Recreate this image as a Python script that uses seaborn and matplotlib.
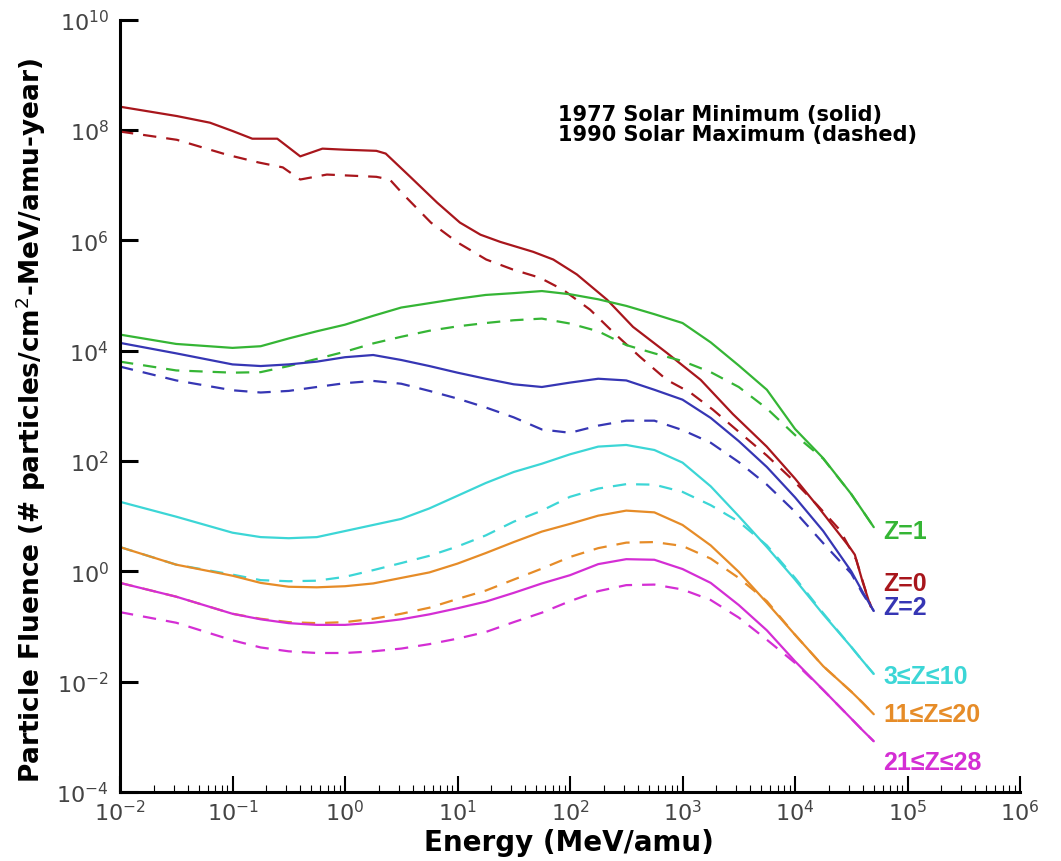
import numpy as np
import pandas as pd
import matplotlib
matplotlib.use("Agg")
import matplotlib.pyplot as plt
import matplotlib.ticker as mticker
import seaborn as sns

# ---------------- data ----------------
# common energy grid (MeV/amu) for Z>=1 curves
energy = [1.0e-2, 3.16e-2, 1.0e-1, 1.78e-1, 3.16e-1, 5.62e-1, 1.0, 1.78, 3.16, 5.62,
          1.0e1, 1.78e1, 3.16e1, 5.62e1, 1.0e2, 1.78e2, 3.16e2, 5.62e2, 1.0e3, 1.78e3,
          3.16e3, 5.62e3, 1.0e4, 1.78e4, 3.16e4, 3.98e4, 5.01e4]

z1_min = [1.95e4, 1.32e4, 1.12e4, 1.20e4, 1.66e4, 2.24e4, 2.95e4, 4.27e4, 6.03e4, 7.24e4,
          8.71e4, 1.02e5, 1.10e5, 1.20e5, 1.05e5, 8.51e4, 6.46e4, 4.57e4, 3.16e4, 1.41e4,
          5.37e3, 1.95e3, 3.80e2, 1.12e2, 2.51e1, 1.26e1, 6.31]
z1_max = [6.31e3, 4.37e3, 3.98e3, 4.07e3, 5.25e3, 7.08e3, 9.55e3, 1.35e4, 1.78e4, 2.29e4,
          2.75e4, 3.16e4, 3.55e4, 3.80e4, 3.09e4, 2.24e4, 1.26e4, 8.91e3, 6.46e3, 4.07e3,
          2.19e3, 8.91e2, 2.95e2, 1.10e2, 2.51e1, 1.26e1, 6.31]

z2_min = [1.38e4, 8.91e3, 5.62e3, 5.25e3, 5.62e3, 6.31e3, 7.59e3, 8.32e3, 6.76e3, 5.25e3,
          3.98e3, 3.09e3, 2.45e3, 2.19e3, 2.63e3, 3.09e3, 2.88e3, 1.95e3, 1.29e3, 6.03e2,
          2.29e2, 7.76e1, 2.19e1, 5.37, 1.00, 4.27e-1, 1.91e-1]
z2_max = [5.13e3, 2.88e3, 1.91e3, 1.74e3, 1.86e3, 2.19e3, 2.57e3, 2.82e3, 2.51e3, 1.86e3,
          1.35e3, 9.33e2, 6.17e2, 3.72e2, 3.24e2, 4.37e2, 5.37e2, 5.37e2, 3.63e2, 2.14e2,
          9.55e1, 3.72e1, 1.20e1, 3.24, 9.12e-1, 3.98e-1, 1.91e-1]

z3_10_min = [1.82e1, 9.77, 5.01, 4.17, 3.98, 4.17, 5.37, 6.92, 8.91, 1.38e1,
             2.34e1, 3.98e1, 6.31e1, 8.91e1, 1.32e2, 1.82e2, 1.95e2, 1.58e2, 9.33e1, 3.47e1,
             1.00e1, 2.75, 7.08e-1, 1.66e-1, 4.27e-2, 2.40e-2, 1.38e-2]
z3_10_max = [2.75, 1.32, 8.71e-1, 6.92e-1, 6.61e-1, 6.76e-1, 7.94e-1, 1.05, 1.41, 1.91,
             2.82, 4.47, 7.94, 1.26e1, 2.24e1, 3.16e1, 3.80e1, 3.72e1, 2.75e1, 1.58e1,
             7.94, 2.95, 7.59e-1, 1.74e-1, 4.27e-2, 2.40e-2, 1.38e-2]

z11_20_min = [2.75, 1.32, 8.32e-1, 6.17e-1, 5.25e-1, 5.13e-1, 5.37e-1, 6.03e-1, 7.59e-1, 9.55e-1,
              1.38, 2.14, 3.39, 5.25, 7.24, 1.02e1, 1.26e1, 1.17e1, 6.92, 2.95,
              9.77e-1, 2.69e-1, 7.08e-2, 1.91e-2, 6.61e-3, 4.17e-3, 2.57e-3]
z11_20_max = [6.17e-1, 3.47e-1, 1.70e-1, 1.38e-1, 1.20e-1, 1.15e-1, 1.20e-1, 1.38e-1, 1.70e-1, 2.19e-1,
              3.16e-1, 4.47e-1, 7.08e-1, 1.12, 1.82, 2.63, 3.31, 3.39, 2.88, 1.70,
              7.59e-1, 2.88e-1, 7.08e-2, 1.91e-2, 6.61e-3, 4.17e-3, 2.57e-3]

z21_28_min = [6.17e-1, 3.47e-1, 1.70e-1, 1.35e-1, 1.15e-1, 1.07e-1, 1.07e-1, 1.17e-1, 1.35e-1, 1.66e-1,
              2.14e-1, 2.82e-1, 4.07e-1, 6.03e-1, 8.51e-1, 1.35, 1.66, 1.62, 1.10, 6.17e-1,
              2.45e-1, 8.51e-2, 2.34e-2, 7.08e-3, 2.14e-3, 1.32e-3, 8.32e-4]
z21_28_max = [1.82e-1, 1.17e-1, 5.62e-2, 4.17e-2, 3.55e-2, 3.31e-2, 3.31e-2, 3.55e-2, 3.98e-2, 4.79e-2,
              6.03e-2, 7.94e-2, 1.20e-1, 1.78e-1, 2.88e-1, 4.37e-1, 5.62e-1, 5.75e-1, 4.68e-1, 3.02e-1,
              1.45e-1, 5.75e-2, 2.19e-2, 7.08e-3, 2.14e-3, 1.32e-3, 8.32e-4]

# Z=0 curves have their own energy sampling (sharper features)
z0_min_energy = [1.0e-2, 3.2e-2, 6.3e-2, 1.0e-1, 1.5e-1, 2.5e-1, 4.0e-1, 6.3e-1, 1.0, 1.9,
                 2.3, 3.8, 6.6, 10.5, 16, 24, 47, 71, 115, 214,
                 363, 724, 1.45e3, 2.8e3, 5.6e3, 1.0e4, 1.6e4, 3.1e4, 3.4e4, 4.0e4, 4.7e4]
z0_min = [2.63e8, 1.78e8, 1.35e8, 9.55e7, 6.92e7, 6.92e7, 3.31e7, 4.57e7, 4.37e7, 4.17e7,
          3.72e7, 1.41e7, 4.79e6, 2.09e6, 1.26e6, 9.33e5, 6.17e5, 4.47e5, 2.40e5, 8.32e4,
          2.69e4, 9.12e3, 2.95e3, 7.08e2, 1.82e2, 4.79e1, 1.48e1, 2.63, 2.00, 6.31e-1, 2.29e-1]

z0_max_energy = [1.0e-2, 3.2e-2, 8.9e-2, 1.7e-1, 2.8e-1, 4.0e-1, 6.9e-1, 1.9, 2.5, 3.3,
                 5.8, 10, 18, 31, 54, 87, 151, 240, 417, 724,
                 1.17e3, 1.86e3, 3.24e3, 5.6e3, 9.5e3, 1.58e4, 2.5e4, 3.5e4, 4.4e4, 4.8e4]
z0_max = [9.33e7, 6.61e7, 3.55e7, 2.57e7, 2.09e7, 1.26e7, 1.55e7, 1.41e7, 1.26e7, 6.76e6,
          2.09e6, 9.12e5, 4.47e5, 2.95e5, 2.09e5, 1.26e5, 5.50e4, 2.19e4, 7.76e3, 2.95e3,
          1.74e3, 8.51e2, 3.24e2, 1.26e2, 4.57e1, 1.58e1, 5.62, 1.62, 3.47e-1, 2.19e-1]

series_names = ["Z=0", "Z=1", "Z=2", "3≤Z≤10", "11≤Z≤20", "21≤Z≤28"]
series_colors = ["#a8161c", "#35b535", "#3636b4", "#3cd6d6", "#e68c28", "#d42ed4"]
periods = ["1977 Solar Minimum (solid)", "1990 Solar Maximum (dashed)"]

# ---------------- long table ----------------
curves = [
    ("Z=0", "solid", z0_min_energy, z0_min),
    ("Z=0", "dashed", z0_max_energy, z0_max),
    ("Z=1", "solid", energy, z1_min),
    ("Z=1", "dashed", energy, z1_max),
    ("Z=2", "solid", energy, z2_min),
    ("Z=2", "dashed", energy, z2_max),
    ("3≤Z≤10", "solid", energy, z3_10_min),
    ("3≤Z≤10", "dashed", energy, z3_10_max),
    ("11≤Z≤20", "solid", energy, z11_20_min),
    ("11≤Z≤20", "dashed", energy, z11_20_max),
    ("21≤Z≤28", "solid", energy, z21_28_min),
    ("21≤Z≤28", "dashed", energy, z21_28_max),
]
frames = [pd.DataFrame({"energy": xs, "fluence": ys, "series": name, "period": per})
          for name, per, xs, ys in curves]
df = pd.concat(frames, ignore_index=True)

# ---------------- plotting ----------------
sns.set_style("ticks")
plt.rcParams["font.family"] = ["DejaVu Sans"]
plt.rcParams["mathtext.fontset"] = "dejavusans"

fig = plt.figure(figsize=(10.61, 8.62), dpi=100)
ax = fig.add_axes([0.1131, 0.080, 0.8483, 0.8962])
ax.set_xscale("log")
ax.set_yscale("log")

sns.lineplot(data=df, x="energy", y="fluence", hue="series", style="period",
             hue_order=series_names, style_order=["solid", "dashed"],
             palette=dict(zip(series_names, series_colors)),
             dashes={"solid": "", "dashed": (6, 4.5)},
             estimator=None, sort=True, linewidth=1.6, legend=False, ax=ax)

ax.set_xlim(1e-2, 1e6)
ax.set_ylim(1e-4, 1e10)

ax.xaxis.set_major_locator(mticker.LogLocator(base=10, numticks=20))
ax.xaxis.set_minor_locator(mticker.LogLocator(base=10, subs=np.arange(2, 10), numticks=20))
ax.xaxis.set_minor_formatter(mticker.NullFormatter())
ax.xaxis.set_major_formatter(mticker.LogFormatterMathtext(base=10))
ax.yaxis.set_major_locator(mticker.LogLocator(base=100, numticks=20))
ax.yaxis.set_minor_locator(mticker.NullLocator())
ax.yaxis.set_major_formatter(mticker.LogFormatterMathtext(base=10))

tick_color = "#444444"
ax.tick_params(axis="x", which="major", direction="in", length=11.5, width=1.5,
               pad=5, labelsize=16, labelcolor=tick_color, color="black")
ax.tick_params(axis="x", which="minor", direction="in", length=5, width=0.8, color="black")
ax.tick_params(axis="y", which="major", direction="in", length=13, width=2.2,
               pad=8, labelsize=16, labelcolor=tick_color, color="black")

sns.despine(ax=ax)
for s in ["left", "bottom"]:
    ax.spines[s].set_linewidth(2.2)
    ax.spines[s].set_color("black")

ax.set_xlabel("Energy (MeV/amu)", fontsize=20, fontweight="bold", color="black")
ax.xaxis.set_label_coords(0.499, -0.046)
ax.set_ylabel(r"Particle Fluence (# particles/cm$^{2}$-MeV/amu-year)",
              fontsize=19, fontweight="bold", color="black")
ax.yaxis.set_label_coords(-0.080, 0.482)

# period annotation
ax.text(0.487, 0.878, periods[0], transform=ax.transAxes, fontsize=15,
        fontweight="bold", ha="left", va="center", color="black")
ax.text(0.487, 0.852, periods[1], transform=ax.transAxes, fontsize=15,
        fontweight="bold", ha="left", va="center", color="black")

# series labels at the right end of the curves
label_y = [0.271, 0.338, 0.240, 0.150, 0.101, 0.039]
for name, col, yy in zip(series_names, series_colors, label_y):
    ax.text(0.848, yy, name, transform=ax.transAxes, color=col, fontsize=18,
            fontweight="bold", ha="left", va="center",
            family=["Liberation Sans Narrow", "Liberation Sans", "DejaVu Sans"])

fig.savefig("out.png", dpi=100, facecolor="white")
